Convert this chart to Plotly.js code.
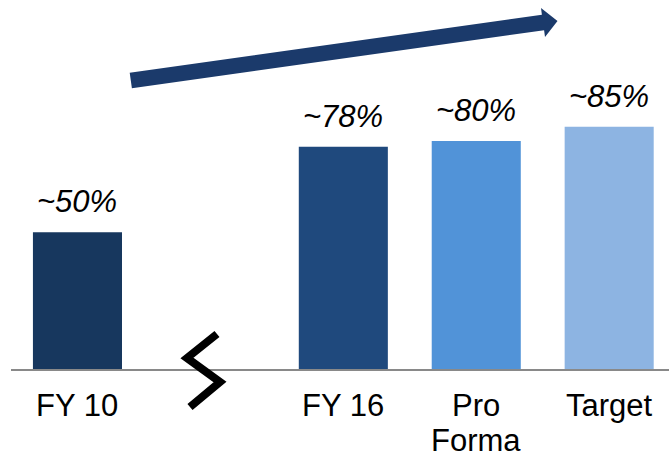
<!DOCTYPE html>
<html>
<head>
<meta charset="utf-8">
<script src="https://cdn.plot.ly/plotly-3.0.1.min.js"></script>
<style>html,body{margin:0;padding:0;background:#fff;}#chart{width:669px;height:458px;}</style>
</head>
<body>
<div id="chart"></div>
<script>
// Data
const categories = ["FY 10", " ", "FY 16", "Pro<br>Forma", "Target"];
const values = [48, null, 78, 80, 85];
const valueLabels = ["~50%", "", "~78%", "~80%", "~85%"];
const barColors = ["#17375E", "#FFFFFF", "#1F497D", "#5193D8", "#8DB4E2"];

const ML = 11, MT = 0;
const FONT = "Liberation Sans, Arial, sans-serif";
// convert absolute image pixels into a path relative to plot's top-left (pixel sizemode)
function pxPath(pts, close) {
  let d = pts.map((p, i) => (i ? "L" : "M") + (p[0] - ML).toFixed(1) + "," + (-(p[1] - MT)).toFixed(1)).join(" ");
  return close ? d + " Z" : d;
}

const arrowPts = [[129.7,72.8],[541.9,14.8],[541,8.0],[557.5,21],[545,37.1],[544.1,30.2],[131.9,88.2]];
const breakPts = [[217,334],[187,358],[220,382],[190,407]];

const annotations = [];
categories.forEach((c, i) => {
  if (values[i] != null) {
    annotations.push({
      x: c, y: values[i], xref: "x", yref: "y",
      text: valueLabels[i], showarrow: false, yanchor: "bottom", yshift: 11,
      font: {family: FONT, size: 31, color: "#000", style: "italic"}
    });
  }
  // category labels (tight line spacing like the reference)
  c.split("<br>").forEach((line, j) => {
    if (!line.trim()) return;
    annotations.push({
      x: c, y: 0, xref: "x", yref: "y", borderpad: 0,
      text: line, showarrow: false, yanchor: "top", yshift: -18 - j * 35,
      font: {family: FONT, size: 31, color: "#000"}
    });
  });
});

const trace = {
  type: "bar", x: categories, y: values,
  marker: {color: barColors, line: {width: 0}},
  width: 0.67, hoverinfo: "skip"
};

const layout = {
  width: 669, height: 458,
  margin: {l: ML, r: 0, t: MT, b: 89},
  paper_bgcolor: "#fff", plot_bgcolor: "#fff",
  showlegend: false,
  font: {family: FONT, size: 31, color: "#000"},
  xaxis: {
    type: "category", categoryorder: "array", categoryarray: categories,
    range: [-0.5, 4.45], showline: true, linecolor: "#898989", linewidth: 2,
    showgrid: false, zeroline: false, ticks: "", fixedrange: true, showticklabels: false
  },
  yaxis: {range: [0, 129.5], visible: false, showgrid: false, zeroline: false, fixedrange: true},
  annotations: annotations,
  shapes: [
    {type: "path", xref: "paper", yref: "paper", xsizemode: "pixel", ysizemode: "pixel",
     xanchor: 0, yanchor: 1, path: pxPath(arrowPts, true),
     fillcolor: "#1B3A6B", line: {width: 0}},
    {type: "path", xref: "paper", yref: "paper", xsizemode: "pixel", ysizemode: "pixel",
     xanchor: 0, yanchor: 1, path: pxPath(breakPts, false),
     line: {color: "#000", width: 8}, fillcolor: "rgba(0,0,0,0)"}
  ]
};

Plotly.newPlot("chart", [trace], layout, {staticPlot: true, displayModeBar: false});
</script>
</body>
</html>
